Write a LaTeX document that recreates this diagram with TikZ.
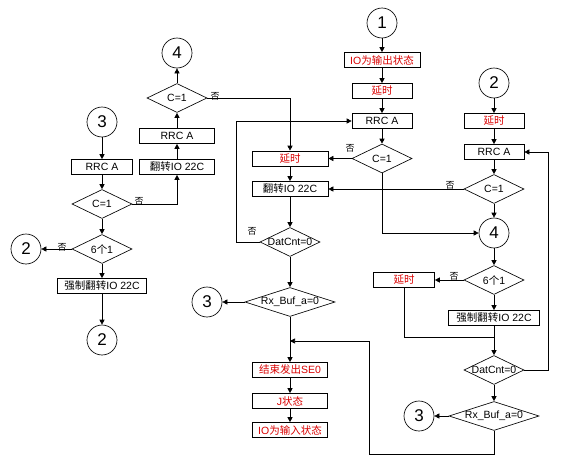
\documentclass[tikz,border=0pt]{standalone}
\usepackage{fontspec}
\setmainfont{Liberation Sans}
\newfontfamily\cjk{Noto Sans CJK SC}
\usepackage{tikz}
\usetikzlibrary{arrows.meta,shapes.geometric}
\newcommand{\zh}[1]{{\cjk #1}}
\newcommand{\dtxt}[1]{\makebox[0pt]{#1}}
\tikzstyle{arrow} = [-{Triangle[length=5pt,width=5pt]}]
\tikzstyle{blk} = [draw, minimum height=15pt, inner sep=0pt, font=\fontsize{10.5}{12}\selectfont]
\tikzstyle{redblk} = [blk, text=red!85!black]
\tikzstyle{dec} = [diamond, draw, minimum width=60pt, minimum height=29pt, inner sep=0pt, font=\fontsize{10.5}{12}\selectfont]
\tikzstyle{conn} = [circle, draw, minimum size=30pt, inner sep=0pt, font=\fontsize{17}{17}\selectfont]
\tikzstyle{nolbl} = [inner sep=0pt, font=\cjk\fontsize{9}{9}\selectfont]

\begin{document}
\begin{tikzpicture}[x=1pt,y=-1pt,line width=0.65pt]
	\useasboundingbox (0,0) rectangle (566,466);
	\def \wa {60}
	\def \wb {76}
	\def \wc {90}
	\begin{scope}
		% left columns
		\node (c3a) at (102,122) [conn] {3};
		\node (rrc1) at (102,167) [blk,minimum width=61pt] {RRC A};
		\node (dc1) at (102,204) [dec] {\dtxt{C=1}};
		\node (d61) at (102,249) [dec] {\dtxt{6\zh{个}1}};
		\node (c2a) at (26,249) [conn] {2};
		\node (force1) at (102,286) [blk,minimum width=89pt] {\zh{强制翻转}IO 22C};
		\node (c2b) at (102,340) [conn] {2};
		
		\node (flip2) at (177,167) [blk,minimum width=75pt] {\zh{翻转}IO 22C};
		\node (rrc2) at (177,136) [blk,minimum width=75pt] {RRC A};
		\node (dc2) at (177,98) [dec] {\dtxt{C=1}};
		\node (c4a) at (177,53) [conn] {4};
		
		\node (no1) at (215,96) [nolbl] {否};
		\node (no2) at (139,201) [nolbl] {否};
		\node (no3) at (62,247) [nolbl] {否};
		
		\draw [arrow] (c3a) -- (rrc1);
		\draw [arrow] (rrc1) -- (dc1);
		\draw [arrow] (dc1) -- (d61);
		\draw [arrow] (d61) -- (force1);
		\draw [arrow] (force1) -- (c2b);
		\draw [arrow] (d61) -- (c2a);
		\draw [arrow] (dc1.east) -| (flip2.south);
		\draw [arrow] (flip2) -- (rrc2);
		\draw [arrow] (rrc2) -- (dc2);
		\draw [arrow] (dc2) -- (c4a);
	\end{scope}
	\begin{scope}
		% middle column
		\node (c1) at (382,23) [conn] {1};
		\node (outm) at (382,60) [redblk,minimum width=\wb pt] {IO\zh{为输出状态}};
		\node (delay1) at (382,91) [redblk,minimum width=\wa pt] {\zh{延时}};
		\node (rrcm) at (382,121) [blk,minimum width=\wa pt] {RRC A};
		\node (dcm) at (382,158.5) [dec] {\dtxt{C=1}};
		\node (delaym) at (290,158.5) [redblk,minimum width=\wb pt] {\zh{延时}};
		\node (flipm) at (290,189) [blk,minimum width=\wb pt] {\zh{翻转}IO 22C};
		\node (datm) at (290,242) [dec] {\dtxt{DatCnt=0}};
		\node (rxm) at (290,302) [dec,minimum width=\wc pt] {\dtxt{Rx\_Buf\_a=0}};
		\node (c3b) at (207,302) [conn] {3};
		\node (endm) at (290,370) [redblk,minimum width=75pt] {\zh{结束发出}SE0};
		\node (jst) at (290,401) [redblk,minimum width=75pt] {J\zh{状态}};
		\node (inm) at (290,430) [redblk,minimum width=75pt] {IO\zh{为输入状态}};
		\coordinate (jm) at (290,341);
		
		\node (no4) at (350,148) [nolbl] {否};
		\node (no5) at (252,231) [nolbl] {否};
		
		\draw [arrow] (c1) -- (outm);
		\draw [arrow] (outm) -- (delay1);
		\draw [arrow] (delay1) -- (rrcm);
		\draw [arrow] (rrcm) -- (dcm);
		\draw [arrow] (dcm) -- (delaym);
		\draw [arrow] (delaym) -- (flipm);
		\draw [arrow] (flipm) -- (datm);
		\draw [arrow] (datm.west) -- ++(-23,0) |- (rrcm.west);
		\draw [arrow] (dc2.east) -| (delaym.north);
		\draw [arrow] (datm) -- (rxm);
		\draw [arrow] (rxm) -- (c3b);
		\draw [arrow] (rxm) -- (endm);
		\draw [arrow] (endm) -- (jst);
		\draw [arrow] (jst) -- (inm);
	\end{scope}
	\begin{scope}
		% right column
		\node (c2c) at (494,83) [conn] {2};
		\node (delayr) at (494,121) [redblk,minimum width=\wa pt] {\zh{延时}};
		\node (rrcr) at (494,152) [blk,minimum width=\wa pt] {RRC A};
		\node (dcr) at (494,189) [dec] {\dtxt{C=1}};
		\node (c4b) at (494,233) [conn] {4};
		\node (d6r) at (494,280) [dec] {\dtxt{6\zh{个}1}};
		\node (delayr2) at (404,280) [redblk,minimum width=61pt] {\zh{延时}};
		\node (forcer) at (494,318) [blk,minimum width=91pt] {\zh{强制翻转}IO 22C};
		\node (datr) at (494,370) [dec] {\dtxt{DatCnt=0}};
		\node (rxr) at (494,416) [dec,minimum width=\wc pt] {\dtxt{Rx\_Buf\_a=0}};
		\node (c3c) at (419,416) [conn] {3};
		\coordinate (jr) at (494,337);
		\coordinate (jm2) at (369,341);
		
		\node (no6) at (450,185) [nolbl] {否};
		\node (no7) at (454,276) [nolbl] {否};
		
		\draw [arrow] (c2c) -- (delayr);
		\draw [arrow] (delayr) -- (rrcr);
		\draw [arrow] (rrcr) -- (dcr);
		\draw [arrow] (dcr) -- (c4b);
		\draw [arrow] (dcr) -- (flipm);
		\draw [arrow] (dcm.south) |- (c4b.west);
		\draw [arrow] (c4b) -- (d6r);
		\draw [arrow] (d6r) -- (delayr2);
		\draw [arrow] (d6r) -- (forcer);
		\draw [arrow] (forcer) -- (datr);
		\draw (delayr2.south) |- (jr);
		\draw [arrow] (datr.east) -- ++(24,0) |- (rrcr.east);
		\draw [arrow] (datr) -- (rxr);
		\draw [arrow] (rxr) -- (c3c);
		\draw [arrow] (rxr.south) -- ++(0,23) -| (jm2) -- (jm);
	\end{scope}
\end{tikzpicture}
\end{document}
